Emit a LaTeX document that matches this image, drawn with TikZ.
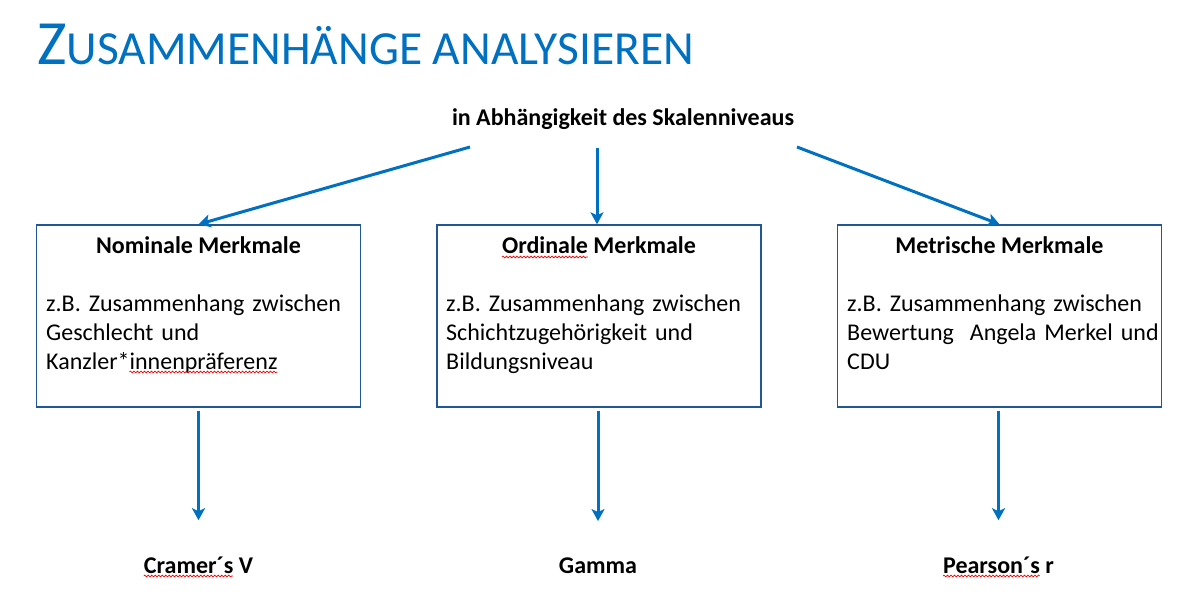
\documentclass[tikz,border=0pt]{standalone}
\usepackage{fontspec}
\setmainfont{Carlito}
\usetikzlibrary{arrows.meta,calc,decorations.pathmorphing}
\definecolor{titelblau}{RGB}{0,112,192}
\definecolor{rahmenblau}{RGB}{31,88,148}
\newcommand\kopffont{\fontsize{24}{29}\selectfont\bfseries}
\newcommand\inhaltfont{\fontsize{24}{29}\selectfont}
\newlength\ordbreite
\newlength\cramerbreite
\newlength\pearsonbreite
\newlength\kanzlerbreite
\newlength\praeferenzbreite
\tikzset{
  kasten/.style={draw=rahmenblau,line width=1.4pt,minimum width=324pt,minimum height=182pt,inner sep=0pt},
  kopf/.style={font=\kopffont,inner sep=0pt,anchor=base},
  inhalt/.style={font=\inhaltfont,inner sep=0pt,anchor=north west,text width=318pt,align=left},
  pfeil/.style={draw=titelblau,line width=3pt,-{Stealth[length=12pt,width=13pt,inset=3pt]}},
  welle/.style={draw=red,line width=0.7pt,decorate,decoration={snake,amplitude=0.9pt,segment length=3.5pt}}
}
\begin{document}
\settowidth{\ordbreite}{\kopffont Ordinale}%
\settowidth{\cramerbreite}{\kopffont Cramer´s}%
\settowidth{\pearsonbreite}{\kopffont Pearson´s}%
\settowidth{\kanzlerbreite}{\inhaltfont Kanzler*}%
\settowidth{\praeferenzbreite}{\inhaltfont Kanzler*innenpräferenz}%
\begin{tikzpicture}[x=1pt,y=-1pt]
            \useasboundingbox (0,0) rectangle (1192,604);
            \node[anchor=base west,inner sep=0pt,text=titelblau] (titel) at (37,65)
              {{\fontsize{63}{63}\selectfont Z}{\fontsize{47.5}{47.5}\selectfont USAMMENHÄNGE ANALYSIEREN}};
            \node[kopf] (skala) at (623,126) {in Abhängigkeit des Skalenniveaus};
            \coordinate (links) at (470,147);
            \coordinate (mitte) at (597,148);
            \coordinate (rechts) at (797,147);
            % drei Kaesten
            \node[kasten] (nom) at (198.5,316) {};
            \node[kasten] (ord) at (599,316) {};
            \node[kasten] (met) at (999.5,316) {};
            \node[kopf] (nomkopf) at (198.5,254) {Nominale Merkmale};
            \node[kopf] (ordkopf) at (599,254) {Ordinale Merkmale};
            \node[kopf] (metkopf) at (999.5,254) {Metrische Merkmale};
            \node[inhalt] (nomtext) at (46,295) {z.B. Zusammenhang zwischen\\Geschlecht und\\Kanzler*innenpräferenz};
            \node[inhalt] (ordtext) at (446,295) {z.B. Zusammenhang zwischen\\Schichtzugehörigkeit und\\Bildungsniveau};
            \node[inhalt] (mettext) at (847,295) {z.B. Zusammenhang zwischen\\Bewertung~ Angela Merkel und\\CDU};
            % Masszahlen
            \node[kopf] (cramer) at (198.5,573) {Cramer´s V};
            \node[kopf] (gamma) at (598,573) {Gamma};
            \node[kopf] (pearson) at (998.5,573) {Pearson´s r};
            \draw[pfeil] (links) -- (nom.north);
            \draw[pfeil] (mitte) -- (mitte |- ord.north);
            \draw[pfeil] (rechts) -- (met.north);
            \draw[pfeil,shorten <=3pt,shorten >=36pt] (nom.south) -- (cramer.north -| nom.south);
            \draw[pfeil,shorten <=3pt,shorten >=36pt] (gamma |- ord.south) -- (gamma.north);
            \draw[pfeil,shorten <=3pt,shorten >=36pt] (pearson |- met.south) -- (pearson.north);
            % Rechtschreibwellen
            \draw[welle] ($(ordkopf.base west)+(0,3)$) -- ++(\ordbreite,0);
            \draw[welle] ($(cramer.base west)+(0,3)$) -- ++(\cramerbreite,0);
            \draw[welle] ($(pearson.base west)+(0,3)$) -- ++(\pearsonbreite,0);
            \draw[welle] ($(nomtext.south west)+(\kanzlerbreite,-2)$) -- ($(nomtext.south west)+(\praeferenzbreite,-2)$);
        \end{tikzpicture}
\end{document}
